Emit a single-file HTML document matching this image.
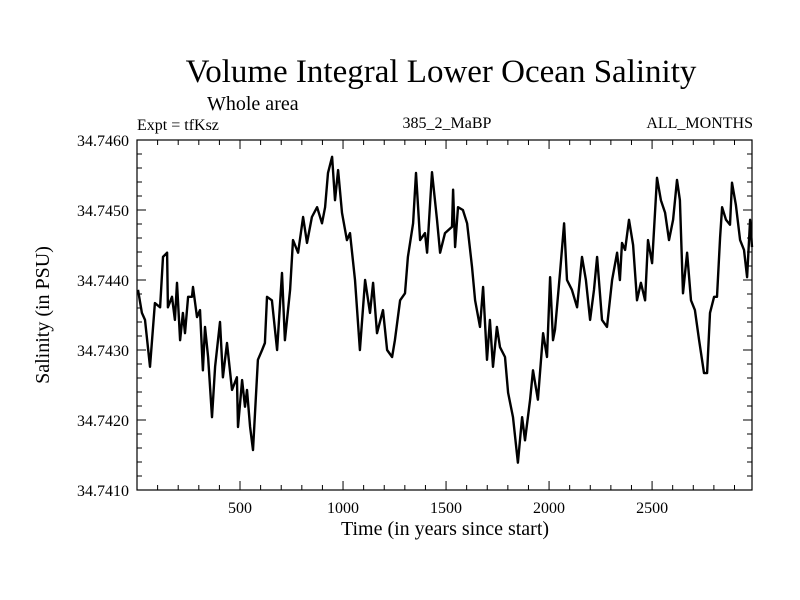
<!DOCTYPE html>
<html><head><meta charset="utf-8"><style>
body{margin:0;background:#fff}
svg{display:block}
text{font-family:"Liberation Serif",serif;fill:#000}
</style></head><body>
<svg id="chart" width="800" height="600">
<text x="441" y="82" font-size="33" text-anchor="middle">Volume Integral Lower Ocean Salinity</text>
<text x="207" y="110" font-size="20">Whole area</text>
<text x="137" y="130" font-size="16">Expt = tfKsz</text>
<text x="447" y="128" font-size="16" text-anchor="middle">385_2_MaBP</text>
<text x="753" y="128" font-size="16" text-anchor="end">ALL_MONTHS</text>
<text x="445" y="535" font-size="20" text-anchor="middle">Time (in years since start)</text>
<text transform="translate(49,315) rotate(-90)" font-size="20" text-anchor="middle">Salinity (in PSU)</text>
<g id="axes"></g>
<path id="line" fill="none" stroke="#000" stroke-width="2.4" stroke-linejoin="round"/>
<rect x="137" y="140" width="615" height="350" fill="none" stroke="#000" stroke-width="1.2"/>
</svg>
<script>
const years=[5,24,39,63,87,112,126,146,150,170,184,194,209,223,233,248,267,272,291,306,320,330,345,364,379,403,417,437,461,485,490,510,524,534,549,563,587,607,621,631,655,680,704,718,743,757,782,806,825,849,874,898,913,927,947,961,976,995,1019,1034,1058,1082,1107,1131,1146,1165,1194,1214,1238,1252,1277,1301,1315,1340,1354,1374,1398,1408,1432,1456,1471,1495,1529,1534,1544,1558,1582,1602,1626,1641,1665,1680,1699,1713,1728,1747,1762,1786,1801,1825,1849,1869,1883,1908,1922,1946,1971,1990,2005,2019,2029,2053,2073,2087,2111,2136,2160,2179,2199,2218,2233,2257,2281,2306,2330,2344,2354,2369,2388,2408,2427,2446,2466,2480,2500,2524,2543,2563,2582,2602,2621,2635,2650,2670,2689,2708,2728,2752,2767,2781,2801,2815,2830,2840,2859,2878,2888,2907,2927,2946,2961,2976,2985];
const salinity=[34.74386,34.74353,34.74343,34.74276,34.74367,34.74361,34.74433,34.74439,34.74361,34.74376,34.74343,34.74396,34.74314,34.74353,34.74324,34.74376,34.74376,34.74390,34.74347,34.74357,34.74271,34.74333,34.74290,34.74204,34.74276,34.74340,34.74261,34.74310,34.74243,34.74261,34.74190,34.74257,34.74219,34.74243,34.74190,34.74157,34.74286,34.74300,34.74310,34.74376,34.74371,34.74300,34.74410,34.74314,34.74386,34.74457,34.74439,34.74490,34.74453,34.74490,34.74504,34.74481,34.74504,34.74553,34.74576,34.74514,34.74557,34.74496,34.74457,34.74467,34.74400,34.74300,34.74400,34.74353,34.74396,34.74324,34.74357,34.74300,34.74290,34.74314,34.74371,34.74381,34.74433,34.74481,34.74553,34.74457,34.74467,34.74439,34.74554,34.74486,34.74439,34.74467,34.74476,34.74529,34.74447,34.74504,34.74500,34.74481,34.74419,34.74371,34.74333,34.74390,34.74286,34.74343,34.74276,34.74333,34.74304,34.74290,34.74239,34.74204,34.74139,34.74204,34.74171,34.74229,34.74271,34.74229,34.74324,34.74290,34.74404,34.74314,34.74329,34.74410,34.74481,34.74400,34.74386,34.74361,34.74433,34.74400,34.74343,34.74386,34.74433,34.74343,34.74333,34.74400,34.74439,34.74400,34.74453,34.74443,34.74486,34.74450,34.74371,34.74396,34.74371,34.74457,34.74424,34.74546,34.74514,34.74496,34.74457,34.74486,34.74543,34.74514,34.74381,34.74439,34.74371,34.74357,34.74314,34.74267,34.74267,34.74353,34.74376,34.74376,34.74461,34.74504,34.74486,34.74479,34.74539,34.74507,34.74457,34.74443,34.74404,34.74486,34.74447];
const xTickLabels=[500,1000,1500,2000,2500];
const yTickLabels=["34.7410","34.7420","34.7430","34.7440","34.7450","34.7460"];
const X0=137,X1=752,Y0=490,Y1=140,xmin=0,xmax=2985,ymin=34.7410,ymax=34.7460;
const sx=t=>X0+(t-xmin)/(xmax-xmin)*(X1-X0);
const sy=v=>Y0-(v-ymin)/(ymax-ymin)*(Y0-Y1);
const NS="http://www.w3.org/2000/svg";
const axes=document.getElementById('axes');
function ln(x1,y1,x2,y2){const l=document.createElementNS(NS,'line');l.setAttribute('x1',x1);l.setAttribute('y1',y1);l.setAttribute('x2',x2);l.setAttribute('y2',y2);l.setAttribute('stroke','#000');l.setAttribute('stroke-width','1');


axes.appendChild(l);}
function tx(x,y,s,anchor,name){const t=document.createElementNS(NS,'text');t.setAttribute('x',x);t.setAttribute('y',y);t.setAttribute('font-size','16');t.setAttribute('text-anchor',anchor);t.textContent=s;


axes.appendChild(t);}
for(let t=100;t<xmax;t+=100){const x=sx(t);const L=(t%500===0)?9:5;ln(x,Y0,x,Y0-L);ln(x,Y1,x,Y1+L);}
xTickLabels.forEach(t=>tx(sx(t),513,String(t),'middle','x-tick-label'));
for(let i=0;i<=25;i++){const v=ymin+i*0.0002;const y=sy(v);const L=(i%5===0)?9:5;ln(X0,y,X0+L,y);ln(X1,y,X1-L,y);}
yTickLabels.forEach(s=>tx(129,sy(parseFloat(s))+6,s,'end','y-tick-label'));
document.getElementById('line').setAttribute('d',years.map((t,i)=>(i?'L':'M')+sx(t).toFixed(1)+','+sy(salinity[i]).toFixed(1)).join(''));
</script>
</body></html>
